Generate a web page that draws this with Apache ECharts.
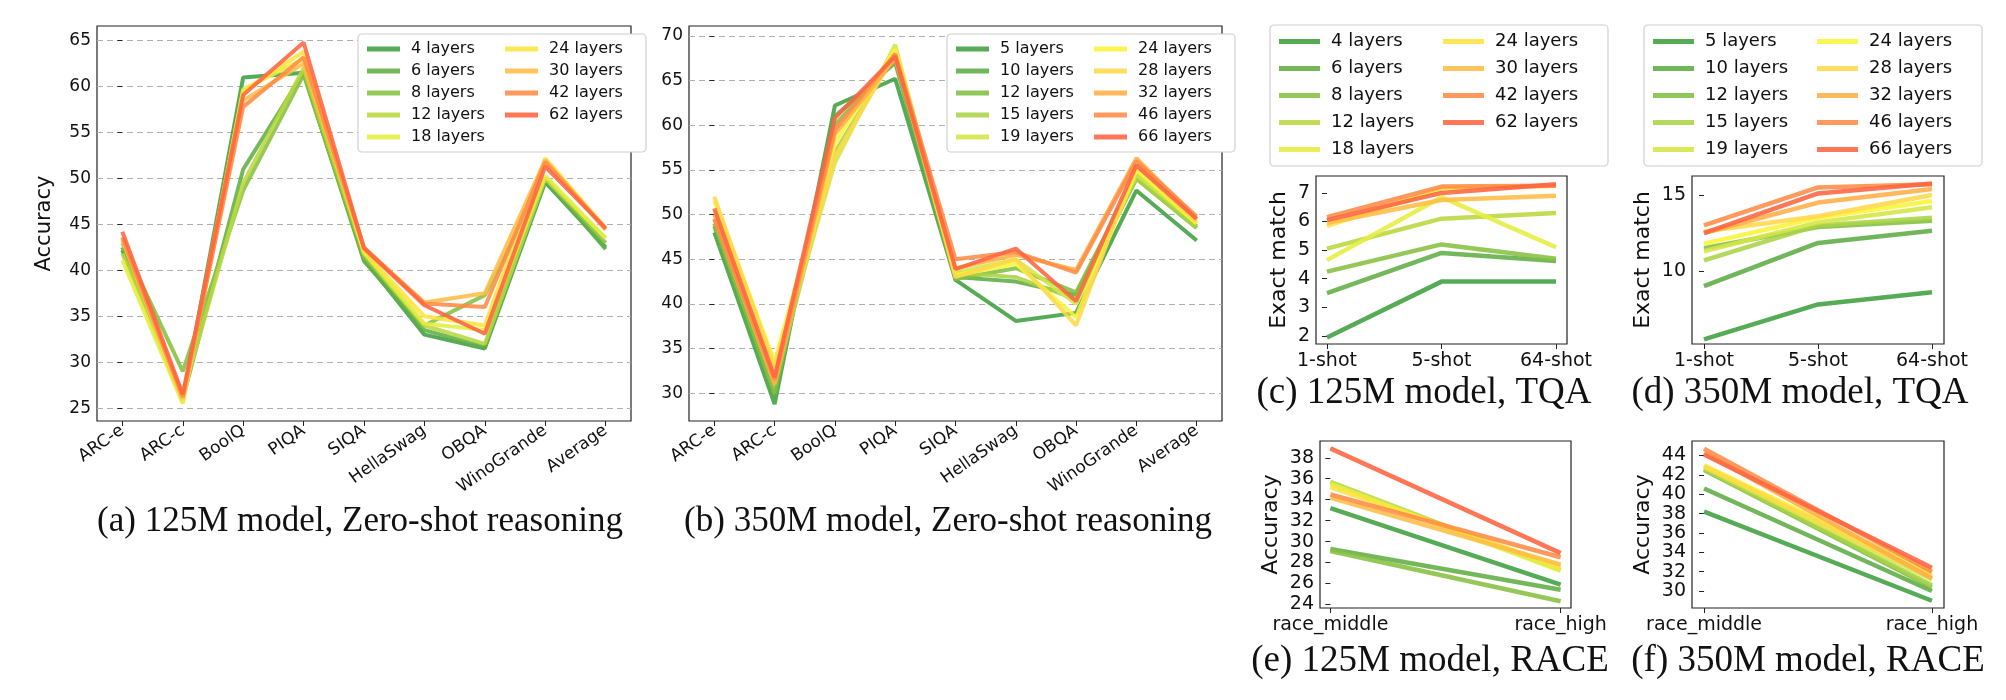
<!DOCTYPE html>
<html><head><meta charset="utf-8">
<script src="https://cdn.jsdelivr.net/npm/echarts@6/dist/echarts.min.js"></script>
<style>html,body{margin:0;padding:0;background:#fff}#c{width:2006px;height:700px}</style>
</head><body><div id="c"></div>
<script>
// ---------- categories ----------
const zsCats = ['ARC-e','ARC-c','BoolQ','PIQA','SIQA','HellaSwag','OBQA','WinoGrande','Average'];
const tqaCats = ['1-shot','5-shot','64-shot'];
const raceCats = ['race_middle','race_high'];
// ---------- series names ----------
const names125 = ['4 layers','6 layers','8 layers','12 layers','18 layers','24 layers','30 layers','42 layers','62 layers'];
const names350 = ['5 layers','10 layers','12 layers','15 layers','19 layers','24 layers','28 layers','32 layers','46 layers','66 layers'];
const colors125 = ['#3f9f3f','#62ae45','#86c040','#b8d840','#e6ee40','#fde440','#ffbd45','#ff8c45','#ff6440'];
const colors350 = ['#3f9f3f','#5fac45','#82be42','#aad446','#d4e644','#f8f538','#ffd84a','#ffae45','#ff8c48','#ff6442'];
// ---------- (a) 125M zero-shot ----------
const zs125_4  = [42.2,25.8,61.0,61.5,41.2,33.0,31.5,49.6,42.5];
const zs125_6  = [42.5,26.0,51.0,61.5,41.0,33.5,31.7,50.0,42.3];
const zs125_8  = [43.0,29.0,48.7,61.3,41.5,34.0,37.3,50.0,43.0];
const zs125_12 = [41.8,26.5,49.5,62.0,41.8,34.0,32.0,50.0,43.5];
const zs125_18 = [41.1,25.5,59.7,63.0,42.0,34.2,33.5,50.3,43.5];
const zs125_24 = [43.5,25.8,59.5,63.8,42.0,35.0,34.0,52.2,44.6];
const zs125_30 = [43.3,26.0,58.5,62.5,42.4,36.5,37.5,52.0,44.4];
const zs125_42 = [43.6,26.2,57.8,63.2,42.5,36.4,36.0,51.8,44.5];
const zs125_62 = [44.2,26.5,59.1,64.8,42.4,36.2,33.1,51.3,44.6];
// ---------- (b) 350M zero-shot ----------
const zs350_5  = [48.0,28.8,62.2,65.2,42.7,38.1,39.0,52.7,47.1];
const zs350_10 = [48.7,29.5,61.0,67.0,43.0,42.5,41.0,54.0,48.5];
const zs350_12 = [49.0,30.0,60.0,67.5,42.8,44.0,41.3,54.5,48.7];
const zs350_15 = [49.5,31.0,57.0,68.0,43.5,43.0,40.5,54.0,48.5];
const zs350_19 = [50.5,32.5,55.8,69.0,43.5,45.0,40.0,54.5,49.0];
const zs350_24 = [51.5,33.5,58.0,68.5,43.2,44.5,38.5,55.0,49.0];
const zs350_28 = [52.0,33.0,56.5,68.0,43.0,45.0,37.6,55.5,49.2];
const zs350_32 = [50.0,31.0,59.0,67.5,44.0,45.5,43.8,56.3,49.5];
const zs350_46 = [49.5,31.5,59.5,68.0,45.0,45.8,43.5,56.0,49.8];
const zs350_66 = [50.7,31.8,60.8,67.7,43.9,46.2,40.3,55.5,49.5];
// ---------- (c) 125M TQA ----------
const tqa125_4  = [1.95,3.9,3.9];
const tqa125_6  = [3.5,4.9,4.62];
const tqa125_8  = [4.25,5.2,4.7];
const tqa125_12 = [5.05,6.1,6.3];
const tqa125_18 = [4.65,6.85,5.1];
const tqa125_24 = [5.85,7.15,7.25];
const tqa125_30 = [5.95,6.75,6.9];
const tqa125_42 = [6.15,7.22,7.25];
const tqa125_62 = [6.05,7.0,7.3];
// ---------- (d) 350M TQA ----------
const tqa350_5  = [5.5,7.8,8.6];
const tqa350_10 = [9.0,11.85,12.65];
const tqa350_12 = [11.5,12.9,13.3];
const tqa350_15 = [10.7,13.0,13.5];
const tqa350_19 = [11.3,13.2,14.2];
const tqa350_24 = [11.8,13.5,14.6];
const tqa350_28 = [12.6,13.6,15.0];
const tqa350_32 = [12.5,14.5,15.4];
const tqa350_46 = [13.0,15.5,15.7];
const tqa350_66 = [12.5,15.1,15.75];
// ---------- (e) 125M RACE ----------
const race125_4  = [33.2,25.9];
const race125_6  = [29.3,25.4];
const race125_8  = [29.1,24.3];
const race125_12 = [35.7,27.3];
const race125_18 = [35.5,27.2];
const race125_24 = [35.2,27.6];
const race125_30 = [34.2,27.8];
const race125_42 = [34.5,28.5];
const race125_62 = [38.9,28.9];
// ---------- (f) 350M RACE ----------
const race350_5  = [38.2,29.0];
const race350_10 = [40.6,30.0];
const race350_12 = [42.5,30.4];
const race350_15 = [42.6,30.6];
const race350_19 = [42.8,31.2];
const race350_24 = [43.0,31.8];
const race350_28 = [42.9,31.5];
const race350_32 = [44.3,31.3];
const race350_46 = [44.7,32.0];
const race350_66 = [44.1,32.4];
// ---------- tick labels ----------
const ticksA = [25,30,35,40,45,50,55,60,65];
const ticksB = [30,35,40,45,50,55,60,65,70];
const ticksC = [2,3,4,5,6,7];
const ticksD = [10,15];
const ticksE = [24,26,28,30,32,34,36,38];
const ticksF = [30,32,34,36,38,40,42,44];

const zsA = [zs125_4,zs125_6,zs125_8,zs125_12,zs125_18,zs125_24,zs125_30,zs125_42,zs125_62];
const zsB = [zs350_5,zs350_10,zs350_12,zs350_15,zs350_19,zs350_24,zs350_28,zs350_32,zs350_46,zs350_66];
const tqC = [tqa125_4,tqa125_6,tqa125_8,tqa125_12,tqa125_18,tqa125_24,tqa125_30,tqa125_42,tqa125_62];
const tqD = [tqa350_5,tqa350_10,tqa350_12,tqa350_15,tqa350_19,tqa350_24,tqa350_28,tqa350_32,tqa350_46,tqa350_66];
const rcE = [race125_4,race125_6,race125_8,race125_12,race125_18,race125_24,race125_30,race125_42,race125_62];
const rcF = [race350_5,race350_10,race350_12,race350_15,race350_19,race350_24,race350_28,race350_32,race350_46,race350_66];

const panels = [
  {grid:{left:97,top:26,width:534,height:395}, cats:zsCats, xm:0.42, ymin:23.6, ymax:66.6, ticks:ticksA, data:zsA, names:names125, colors:colors125, split:true, rot:35, fs:17, yname:'Accuracy', ngap:42, nfs:21, lw:4},
  {grid:{left:689,top:26,width:533,height:395}, cats:zsCats, xm:0.42, ymin:26.9, ymax:71.1, ticks:ticksB, data:zsB, names:names350, colors:colors350, split:true, rot:35, fs:17, yname:'', ngap:40, nfs:21, lw:4},
  {grid:{left:1316,top:176,width:251,height:168}, cats:tqaCats, xm:0.096, ymin:1.72, ymax:7.59, ticks:ticksC, data:tqC, names:names125, colors:colors125, split:false, rot:0, fs:19, yname:'Exact match', ngap:26, nfs:22, lw:4.5},
  {grid:{left:1692,top:176,width:252,height:168}, cats:tqaCats, xm:0.105, ymin:5.2, ymax:16.25, ticks:ticksD, data:tqD, names:names350, colors:colors350, split:false, rot:0, fs:19, yname:'Exact match', ngap:38, nfs:22, lw:4.5},
  {grid:{left:1320,top:441,width:251,height:167}, cats:raceCats, xm:0.045, ymin:23.66, ymax:39.6, ticks:ticksE, data:rcE, names:names125, colors:colors125, split:false, rot:0, fs:19, yname:'Accuracy', ngap:38, nfs:22, lw:4.5},
  {grid:{left:1692,top:441,width:252,height:167}, cats:raceCats, xm:0.053, ymin:28.25, ymax:45.5, ticks:ticksF, data:rcF, names:names350, colors:colors350, split:false, rot:0, fs:19, yname:'Accuracy', ngap:38, nfs:22, lw:4.5}
];

const grid=[],xAxis=[],yAxis=[],series=[];
panels.forEach((p,i)=>{
  grid.push(Object.assign({show:true,borderColor:'#222',borderWidth:1.2,backgroundColor:'transparent'},p.grid));
  const idx = p.cats.map((c,k)=>k);
  xAxis.push({gridIndex:i,type:'value',min:-p.xm,max:p.cats.length-1+p.xm,
    axisLine:{show:false},splitLine:{show:false},
    axisTick:{show:true,customValues:idx,length:5,lineStyle:{color:'#222'}},
    axisLabel:{customValues:idx,formatter:v=>p.cats[Math.round(v)],rotate:p.rot,fontSize:p.fs,color:'#111',fontFamily:'DejaVu Sans',margin:8,hideOverlap:false,showMinLabel:true,showMaxLabel:true}});
  yAxis.push({gridIndex:i,type:'value',min:p.ymin,max:p.ymax,name:p.yname,nameLocation:'middle',nameGap:p.ngap,
    nameTextStyle:{fontSize:p.nfs,color:'#111',fontFamily:'DejaVu Sans'},
    axisLine:{show:false},
    axisTick:{show:true,customValues:p.ticks,length:5,lineStyle:{color:'#222'}},
    axisLabel:{customValues:p.ticks,fontSize:p.fs,color:'#111',fontFamily:'DejaVu Sans',margin:6,showMinLabel:true,showMaxLabel:true},
    splitLine:{show:p.split,lineStyle:{type:[6,4],color:'#b0b0b0',width:1.2}}});
  p.data.forEach((arr,k)=>{
    series.push({type:'line',name:p.names[k],xAxisIndex:i,yAxisIndex:i,showSymbol:false,symbol:'none',silent:true,
      data:arr.map((v,j)=>[j,v]),lineStyle:{color:p.colors[k],width:p.lw,opacity:0.88},itemStyle:{color:p.colors[k]},z:2+k});
  });
});

function mkLegend(names,colors,left,top,fs,iw,tw,gap,lh){
  return {orient:'vertical',left:left,top:top,height:5*lh+4*gap+4,itemGap:gap,itemWidth:iw,itemHeight:5,icon:'rect',
    padding:[7,9,7,9],borderColor:'#d0d0d0',borderWidth:1.2,borderRadius:4,backgroundColor:'#fff',selectedMode:false,
    textStyle:{fontSize:fs,lineHeight:lh,color:'#111',fontFamily:'DejaVu Sans',width:tw,padding:[0,0,0,6]},
    data:names.map((n,k)=>({name:n,itemStyle:{color:colors[k],opacity:0.88}}))};
}
const legend=[
  mkLegend(names125,colors125,358,34,16,33,88,6,16),
  mkLegend(names350,colors350,947,34,16,33,88,6,16),
  mkLegend(names125,colors125,1270,25,18,41,104,8,19),
  mkLegend(names350,colors350,1644,25,18,41,104,8,19)
];
const txt=(t,x,y,fs)=>({type:'text',x:x,y:y,style:{text:t,fontFamily:'Liberation Serif',fontSize:fs,fill:'#111',align:'center',verticalAlign:'middle'}});
const graphic=[
  txt('(a) 125M model, Zero-shot reasoning',360,522,35),
  txt('(b) 350M model, Zero-shot reasoning',948,522,35),
  txt('(c) 125M model, TQA',1424,393,37),
  txt('(d) 350M model, TQA',1800,393,37),
  txt('(e) 125M model, RACE',1430,661,37),
  txt('(f) 350M model, RACE',1808,661,37)
];
const chart=echarts.init(document.getElementById('c'),null,{renderer:'canvas'});
chart.setOption({animation:false,backgroundColor:'#fff',grid,xAxis,yAxis,series,legend,graphic});
</script></body></html>
